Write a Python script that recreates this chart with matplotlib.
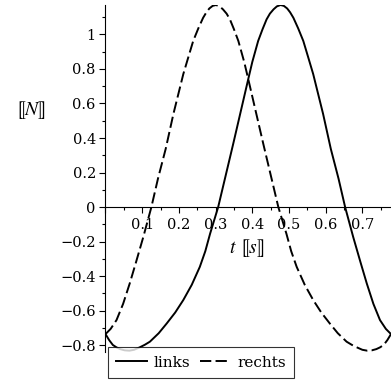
import numpy as np
import matplotlib
matplotlib.use('Agg')
import matplotlib.pyplot as plt
from matplotlib.ticker import MultipleLocator, FuncFormatter

plt.rcParams['font.family'] = ['DejaVu Serif']
plt.rcParams['mathtext.fontset'] = 'stix'

# values
links_t = [0.0, 0.01, 0.02, 0.03, 0.04, 0.052, 0.065, 0.078, 0.094, 0.107,
           0.121, 0.145, 0.167, 0.19, 0.212, 0.235, 0.257, 0.272, 0.285, 0.307,
           0.348, 0.389, 0.40, 0.416, 0.428, 0.439, 0.448, 0.458, 0.467, 0.477,
           0.486, 0.495, 0.503, 0.512, 0.525, 0.539, 0.552, 0.566, 0.593, 0.614,
           0.635, 0.653, 0.675, 0.695, 0.712, 0.73, 0.748, 0.764, 0.778]
links_v = [-0.735, -0.77, -0.798, -0.812, -0.822, -0.829, -0.831, -0.826, -0.811, -0.797,
           -0.779, -0.73, -0.673, -0.61, -0.538, -0.45, -0.346, -0.255, -0.154, 0.0,
           0.366, 0.741, 0.84, 0.962, 1.03, 1.087, 1.12, 1.145, 1.162, 1.17,
           1.165, 1.15, 1.128, 1.096, 1.035, 0.962, 0.87, 0.77, 0.539, 0.337,
           0.165, 0.0, -0.173, -0.32, -0.442, -0.56, -0.654, -0.705, -0.735]

rechts_t = [0.0, 0.014, 0.03, 0.048, 0.066, 0.083, 0.103, 0.125, 0.143, 0.164,
            0.185, 0.212, 0.226, 0.239, 0.253, 0.266, 0.275, 0.283, 0.292, 0.301,
            0.311, 0.32, 0.33, 0.339, 0.35, 0.362, 0.378, 0.389, 0.43, 0.471,
            0.493, 0.506, 0.521, 0.543, 0.566, 0.588, 0.611, 0.633, 0.657, 0.671,
            0.684, 0.70, 0.713, 0.726, 0.738, 0.748, 0.758, 0.768, 0.778]
rechts_v = [-0.735, -0.705, -0.654, -0.56, -0.442, -0.32, -0.173, 0.0, 0.165, 0.337,
            0.539, 0.77, 0.87, 0.962, 1.035, 1.096, 1.128, 1.15, 1.165, 1.17,
            1.162, 1.145, 1.12, 1.087, 1.03, 0.962, 0.84, 0.741, 0.366, 0.0,
            -0.154, -0.255, -0.346, -0.45, -0.538, -0.61, -0.673, -0.73, -0.779, -0.797,
            -0.811, -0.826, -0.831, -0.829, -0.822, -0.812, -0.798, -0.77, -0.735]

fig = plt.figure(figsize=(3.91, 3.84), dpi=100)
ax = fig.add_axes([105.5 / 391, 32.3 / 384, 285.5 / 391, 346.7 / 384])

ax.plot(links_t, links_v, color='k', lw=1.4, label='links')
ax.plot(rechts_t, rechts_v, color='k', lw=1.4, dashes=(5.8, 2.2), label='rechts')

ax.set_xlim(0, 0.778)
ax.set_ylim(-0.837, 1.17)

# axes through the origin
ax.spines['left'].set_position(('data', 0))
ax.spines['bottom'].set_position(('data', 0))
ax.spines['top'].set_visible(False)
ax.spines['right'].set_visible(False)
for s in ['left', 'bottom']:
    ax.spines[s].set_linewidth(0.8)

ax.xaxis.set_major_locator(MultipleLocator(0.1))
ax.xaxis.set_minor_locator(MultipleLocator(0.05))
ax.yaxis.set_major_locator(MultipleLocator(0.2))
ax.yaxis.set_minor_locator(MultipleLocator(0.1))


def fmt(v, pos):
    if abs(v) < 1e-9:
        return '0'
    s = '%g' % round(v, 2)
    return s.replace('-', '\u2212')


def fmt_x(v, pos):
    if abs(v) < 1e-9:
        return ''
    return fmt(v, pos)


ax.xaxis.set_major_formatter(FuncFormatter(fmt_x))
ax.yaxis.set_major_formatter(FuncFormatter(fmt))
ax.tick_params(which='major', length=4, width=0.8, labelsize=10.5)
ax.tick_params(which='minor', length=2, width=0.8)
ax.tick_params(axis='x', pad=4)
ax.tick_params(axis='y', pad=3)

ax.set_xlabel(r'$t\ ⟦s⟧$', fontsize=14)
ax.xaxis.set_label_coords(0.496, 0.299)
ax.xaxis.label.set_va('center')
ax.set_ylabel(r'$⟦N⟧$', fontsize=14, rotation=0)
ax.yaxis.set_label_coords(-0.261, 0.697)
ax.yaxis.label.set_va('center')
ax.yaxis.label.set_ha('center')

leg = fig.legend(loc='lower left', bbox_to_anchor=(108 / 391, 6 / 384), ncol=2,
                 fontsize=11, frameon=True, fancybox=False, borderaxespad=0,
                 handlelength=2.0, columnspacing=0.6, handletextpad=0.45,
                 borderpad=0.55)
leg.get_frame().set_edgecolor('k')
leg.get_frame().set_linewidth(0.8)

fig.savefig('out.png', dpi=100)
